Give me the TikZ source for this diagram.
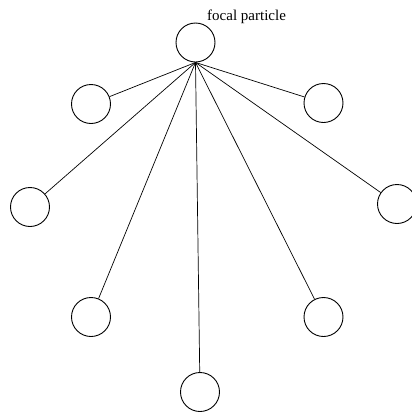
\documentclass[tikz,border=0pt]{standalone}
\usepackage{fontspec}
\setmainfont{Liberation Serif}
\begin{document}
\begin{tikzpicture}[x=1pt,y=-1pt,
  particle/.style={draw,circle,minimum size=39pt,inner sep=0pt,line width=0.9pt},
  link/.style={line width=0.7pt}]
\useasboundingbox (0,0) rectangle (412,413);
\node[particle] (f) at (195.5,42.5) {};
\node[font=\fontsize{15}{17}\selectfont,anchor=base west,inner sep=0pt] (lab) at (207,20) {focal particle};
\node[particle] (a) at (91,104) {};
\node[particle] (b) at (323.5,103) {};
\node[particle] (c) at (30,207) {};
\node[particle] (d) at (397,204) {};
\node[particle] (e) at (91,317) {};
\node[particle] (g) at (323.5,317) {};
\node[particle] (h) at (200,392) {};
\foreach \n in {a,b,c,d,e,g,h} \draw[link] (f.south) -- (\n);
\end{tikzpicture}
\end{document}
